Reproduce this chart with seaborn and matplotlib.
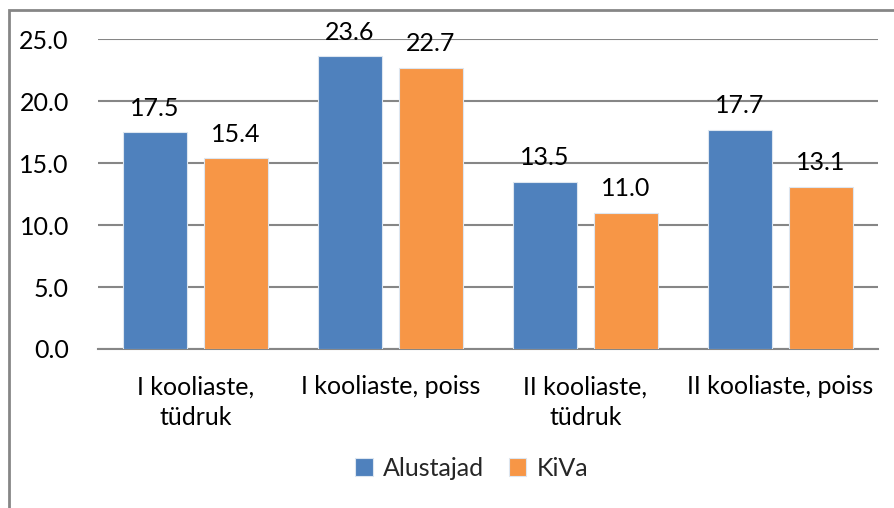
import pandas as pd
import numpy as np
import seaborn as sns
import matplotlib.pyplot as plt
from matplotlib.patches import Rectangle

# data
categories = ['I kooliaste,\ntüdruk', 'I kooliaste, poiss',
              'II kooliaste,\ntüdruk', 'II kooliaste, poiss']
alustajad = [17.5, 23.6, 13.5, 17.7]
kiva = [15.4, 22.7, 11.0, 13.1]
series = ['Alustajad', 'KiVa']
yticks = [0, 5, 10, 15, 20, 25]

df = pd.DataFrame({
    'group': categories * 2,
    'value': alustajad + kiva,
    'series': [series[0]] * 4 + [series[1]] * 4,
})

sns.set_style('white')
plt.rcParams['font.family'] = ['Lato', 'DejaVu Sans']
fs = 18

fig = plt.figure(figsize=(8.95, 5.08), dpi=100)
ax = fig.add_axes([0.1095, 0.313, 0.8715, 0.61])

sns.barplot(data=df, x='group', y='value', hue='series',
            palette=['#4F81BD', '#F79646'], width=0.83, gap=0.21,
            saturation=1, linewidth=0.8, edgecolor='#dde6f0', ax=ax, zorder=3)

for cont in ax.containers:
    ax.bar_label(cont, fmt='%.1f', padding=9, fontsize=fs, color='black')

ax.set_ylim(0, 25)
ax.set_yticks(yticks)
ax.set_yticklabels([f'{v:.1f}' for v in yticks])
ax.set_xlim(-0.5, 3.5)
ax.set_xlabel('')
ax.set_ylabel('')
ax.yaxis.grid(True, color='#868686', linewidth=1.5, zorder=0)
for s in ['left', 'right', 'top']:
    ax.spines[s].set_visible(False)
ax.spines['bottom'].set_color('#868686')
ax.spines['bottom'].set_linewidth(1.5)
ax.tick_params(axis='y', length=0, pad=21, labelsize=fs, labelcolor='black')
ax.tick_params(axis='x', length=0, pad=19, labelsize=fs, labelcolor='black')
for lab in ax.get_xticklabels():
    lab.set_linespacing(1.38)

ax.legend(loc='center', bbox_to_anchor=(0.527, 0.078), bbox_transform=fig.transFigure,
          ncol=2, frameon=False, fontsize=fs, handlelength=0.7, handleheight=0.7,
          handletextpad=0.4, columnspacing=1.0)

# chart border (right/bottom edges fall outside the picture)
fig.patches.append(Rectangle((9 / 895, -0.05), 1.1, 1 - 10 / 508 + 0.05,
                             transform=fig.transFigure, fill=False,
                             edgecolor='#868686', linewidth=2))

fig.savefig('out.png', dpi=100)
